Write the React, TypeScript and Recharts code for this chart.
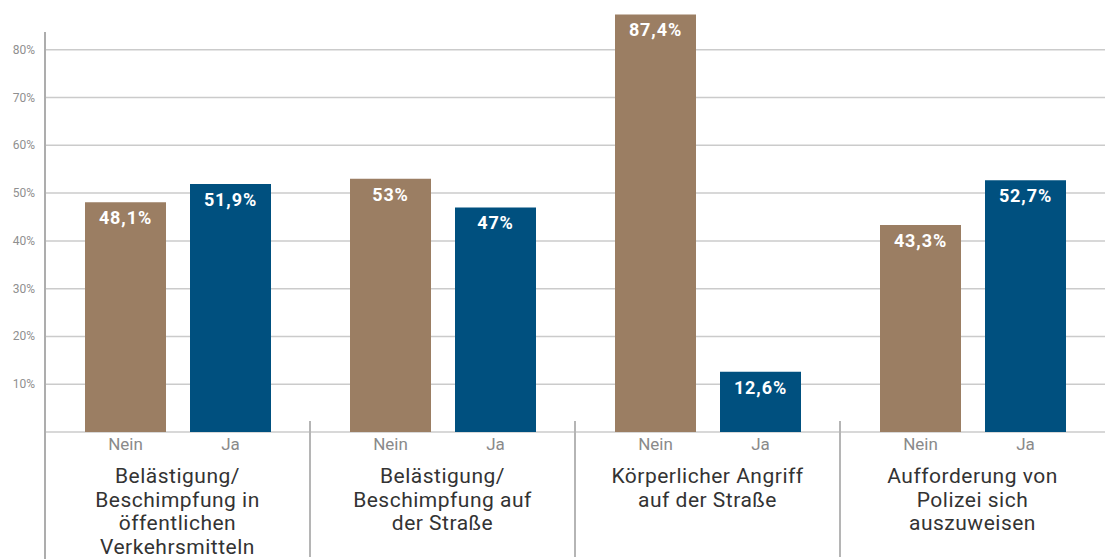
import { BarChart, Bar, XAxis, YAxis, CartesianGrid, LabelList } from 'recharts';

const categories = [
  'Belästigung/\nBeschimpfung in\nöffentlichen\nVerkehrsmitteln',
  'Belästigung/\nBeschimpfung auf\nder Straße',
  'Körperlicher Angriff\nauf der Straße',
  'Aufforderung von\nPolizei sich\nauszuweisen',
];
const neinValues = [48.1, 53, 87.4, 43.3];
const jaValues = [51.9, 47, 12.6, 52.7];
const yTicks = [0, 10, 20, 30, 40, 50, 60, 70, 80];

const data = categories.map((name, i) => ({ name, nein: neinValues[i], ja: jaValues[i] }));

const W = 1105;
const H = 559;
const LEFT = 45;
const FONT = 'Roboto, "DejaVu Sans", sans-serif';

const pct = (v: any) => `${String(v).replace('.', ',')}%`;

function YTick(props: any) {
  const { x, y, payload } = props;
  if (payload.value === 0) return null;
  return (
    <text x={x} y={y} dy={4} textAnchor="end" fontSize={12} fill="#8f8f8f" fontFamily={FONT}>
      {payload.value}%
    </text>
  );
}

function XTick(props: any) {
  const { x, y, payload } = props;
  const lines = String(payload.value).split('\n');
  return (
    <text x={x} y={y} textAnchor="middle" fontSize={21} fill="#333" fontFamily={FONT} letterSpacing={0.5}>
      {lines.map((l, i) => (
        <tspan key={i} x={x} dy={i === 0 ? 43 : 23.5}>
          {l}
        </tspan>
      ))}
    </text>
  );
}

const subLabel = (text: string) => (p: any) => {
  const x = Number(p.x) + Number(p.width) / 2;
  const y = Number(p.y) + Number(p.height) + 18;
  return (
    <text x={x} y={y} textAnchor="middle" fontSize={17} fill="#8a8a8a" fontFamily={FONT}>
      {text}
    </text>
  );
};

export default function App() {
  const groupW = (W - LEFT) / categories.length;
  return (
    <div style={{ position: 'relative', width: W, height: H, background: '#fff' }}>
      <style>{'body{margin:0}'}</style>
      <BarChart
        width={W}
        height={H}
        data={data}
        margin={{ top: 2, right: 0, left: 0, bottom: 0 }}
        barSize={81}
        barGap={24}
      >
        <CartesianGrid vertical={false} horizontalValues={yTicks} stroke="#cbcbcb" strokeWidth={1.5} />
        <XAxis
          dataKey="name"
          axisLine={false}
          tickLine={false}
          tick={<XTick />}
          interval={0}
          height={127}
        />
        <YAxis
          domain={[0, 90]}
          ticks={yTicks}
          axisLine={false}
          tickLine={false}
          tickSize={0}
          tickMargin={10}
          width={LEFT}
          tick={<YTick />}
        />
        <Bar dataKey="nein" fill="#9b7e63" isAnimationActive={false}>
          <LabelList
            dataKey="nein"
            position="insideTop"
            offset={9}
            formatter={pct}
            fill="#fff"
            fontSize={18}
            fontWeight={700}
            fontFamily={FONT}
            letterSpacing={0.9}
          />
          <LabelList dataKey="nein" content={subLabel('Nein')} />
        </Bar>
        <Bar dataKey="ja" fill="#00507f" isAnimationActive={false}>
          <LabelList
            dataKey="ja"
            position="insideTop"
            offset={9}
            formatter={pct}
            fill="#fff"
            fontSize={18}
            fontWeight={700}
            fontFamily={FONT}
            letterSpacing={0.9}
          />
          <LabelList dataKey="ja" content={subLabel('Ja')} />
        </Bar>
      </BarChart>
      <svg width={W} height={H} style={{ position: 'absolute', left: 0, top: 0, pointerEvents: 'none' }}>
        <line x1={LEFT} x2={LEFT} y1={32} y2={H} stroke="#adadad" strokeWidth={2} />
        {categories.slice(1).map((_, i) => (
          <line
            key={i}
            x1={LEFT + groupW * (i + 1)}
            x2={LEFT + groupW * (i + 1)}
            y1={421}
            y2={557}
            stroke="#b5b5b5"
            strokeWidth={2}
          />
        ))}
      </svg>
    </div>
  );
}
